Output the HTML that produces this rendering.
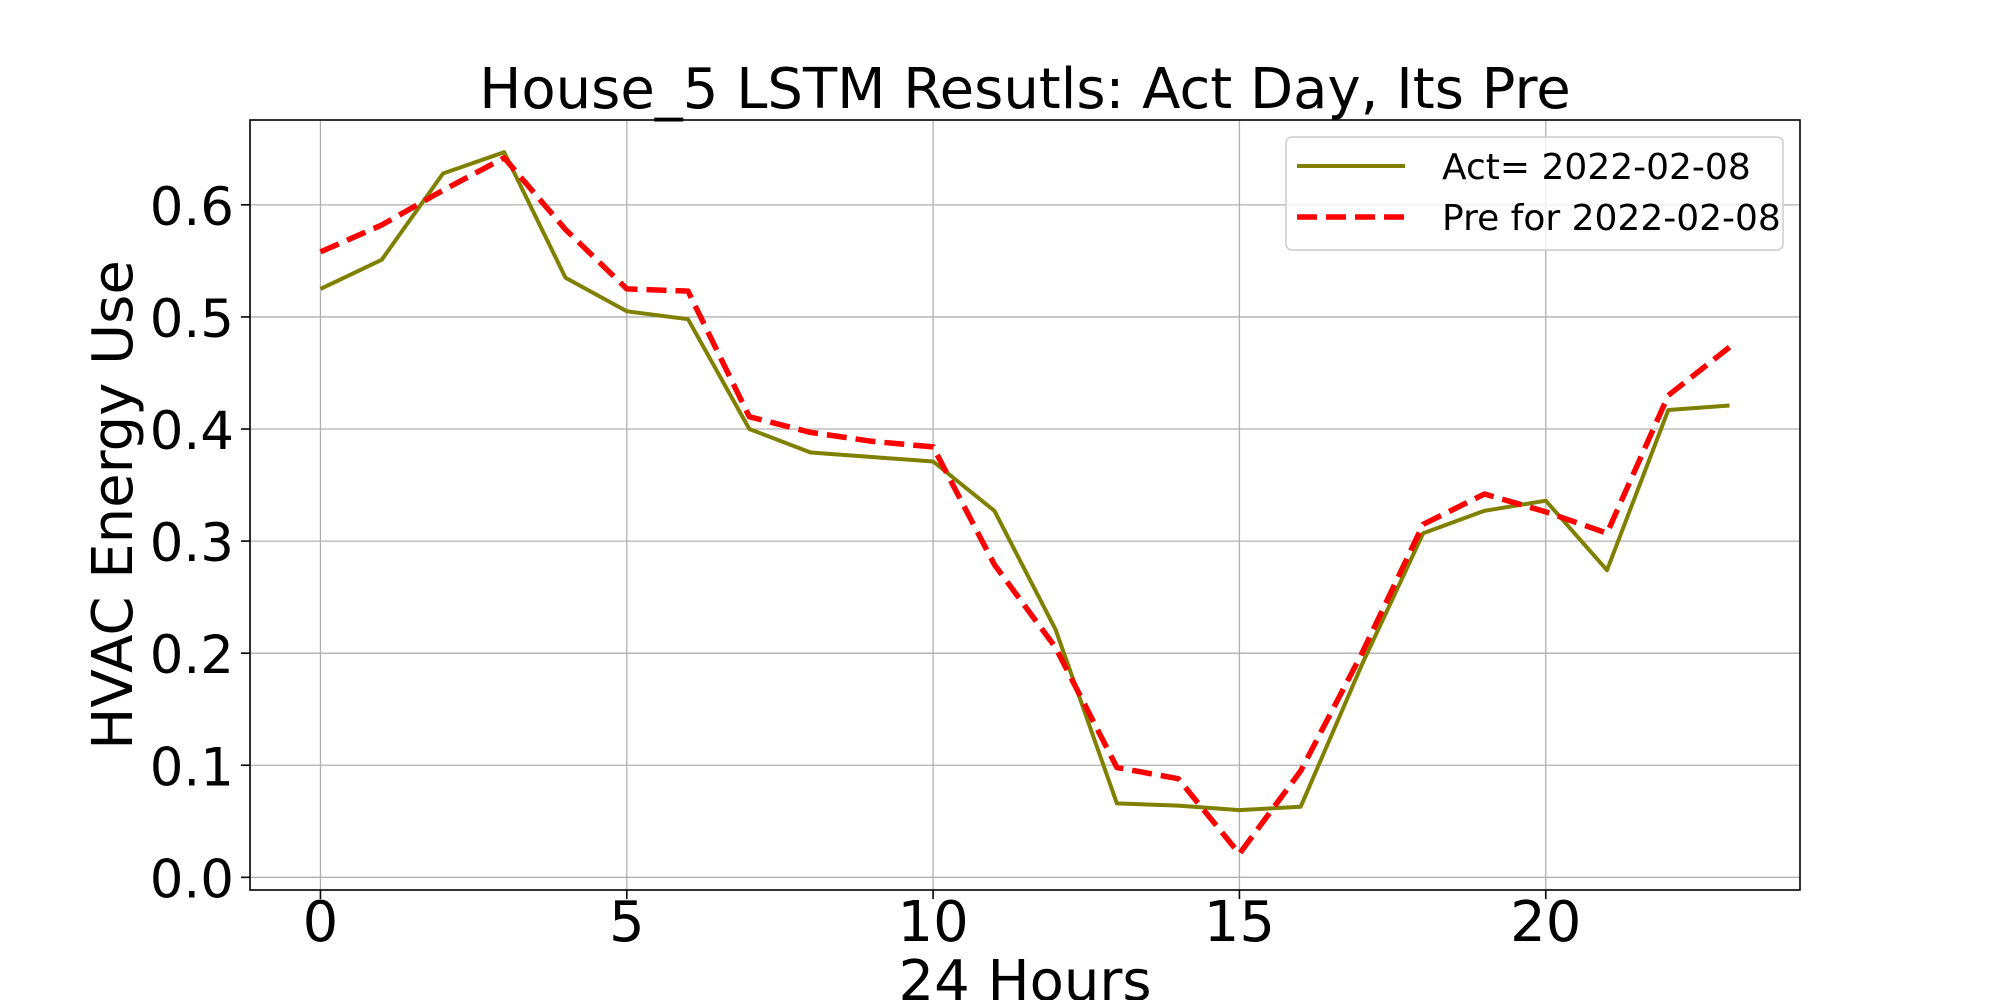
<!DOCTYPE html>
<html><head><meta charset="utf-8"><style>
html,body{margin:0;padding:0;background:#fff;}
svg{display:block;font-family:"DejaVu Sans","Liberation Sans",sans-serif;}
</style></head><body>
<svg id="chart" width="2000" height="1000" viewBox="0 0 2000 1000" xmlns="http://www.w3.org/2000/svg">
<rect width="2000" height="1000" fill="#fff"/>
<g id="grid"></g>
<g id="series"></g>
<rect x="250" y="120" width="1550" height="770" fill="none" stroke="#000" stroke-width="1.6"/>
<g id="ticks"></g>
<text x="1025" y="108" font-size="56" text-anchor="middle">House_5 LSTM Resutls: Act Day, Its Pre</text>
<text x="1025" y="1000" font-size="56" text-anchor="middle">24 Hours</text>
<text x="0" y="0" font-size="56" text-anchor="middle" transform="translate(132,505) rotate(-90)">HVAC Energy Use</text>
<g>
<rect x="1286" y="137" width="497" height="113" rx="6" fill="#fff" fill-opacity="0.8" stroke="#ccc" stroke-width="1.5"/>
<line x1="1297" y1="166" x2="1405" y2="166" stroke="#808000" stroke-width="4"/>
<text x="1442" y="179" font-size="36">Act= 2022-02-08</text>
<line x1="1297" y1="217" x2="1405" y2="217" stroke="#ff0000" stroke-width="5.5" stroke-dasharray="20,9"/>
<text x="1442" y="230" font-size="36">Pre for 2022-02-08</text>
</g>
</svg>
<script>
const hours = [0,1,2,3,4,5,6,7,8,9,10,11,12,13,14,15,16,17,18,19,20,21,22,23];
const actValues = [0.525,0.551,0.628,0.647,0.535,0.505,0.498,0.400,0.379,0.375,0.371,0.327,0.221,0.066,0.064,0.060,0.063,0.190,0.307,0.327,0.336,0.274,0.417,0.421];
const preValues = [0.558,0.582,0.613,0.642,0.578,0.525,0.523,0.411,0.397,0.389,0.384,0.279,0.205,0.098,0.088,0.021,0.095,0.200,0.315,0.342,0.326,0.307,0.430,0.473];
const xTicks = [0,5,10,15,20];
const yTicks = [0.0,0.1,0.2,0.3,0.4,0.5,0.6];
const yTickLabels = ["0.0","0.1","0.2","0.3","0.4","0.5","0.6"];

const L=250,R=1800,T=120,B=890;
const xMin=-1.15,xMax=24.15,yMin=-0.0113,yMax=0.6757;
const xs=v=>L+(v-xMin)/(xMax-xMin)*(R-L);
const ys=v=>B-(v-yMin)/(yMax-yMin)*(B-T);
const NS="http://www.w3.org/2000/svg";
function mk(tag,attrs,parent){const e=document.createElementNS(NS,tag);for(const k in attrs)e.setAttribute(k,attrs[k]);parent.appendChild(e);return e;}
const grid=document.getElementById('grid'),ticks=document.getElementById('ticks'),series=document.getElementById('series');
xTicks.forEach(t=>{
  const g=mk('line',{x1:xs(t),x2:xs(t),y1:T,y2:B,stroke:'#b0b0b0','stroke-width':1.3},grid);
  
  
  const tk=mk('line',{x1:xs(t),x2:xs(t),y1:B,y2:B+9,stroke:'#000','stroke-width':1.6},ticks);
  
  
  const tx=mk('text',{x:xs(t),y:B+51,'font-size':56,'text-anchor':'middle'},ticks);
  tx.textContent=t;
  
  
});
yTicks.forEach((t,i)=>{
  const g=mk('line',{x1:L,x2:R,y1:ys(t),y2:ys(t),stroke:'#b0b0b0','stroke-width':1.3},grid);
  
  
  const tk=mk('line',{x1:L-9,x2:L,y1:ys(t),y2:ys(t),stroke:'#000','stroke-width':1.6},ticks);
  
  
  const tx=mk('text',{x:L-16,y:ys(t)+20,'font-size':53,'text-anchor':'end'},ticks);
  tx.textContent=yTickLabels[i];
  
  
});
const pts=vals=>vals.map((v,i)=>xs(hours[i]).toFixed(1)+','+ys(v).toFixed(1)).join(' ');
const a=mk('polyline',{points:pts(actValues),fill:'none',stroke:'#808000','stroke-width':4,'stroke-linejoin':'round'},series);


const p=mk('polyline',{points:pts(preValues),fill:'none',stroke:'#ff0000','stroke-width':5.5,'stroke-dasharray':'20,9','stroke-linejoin':'round'},series);


</script>
</body></html>
